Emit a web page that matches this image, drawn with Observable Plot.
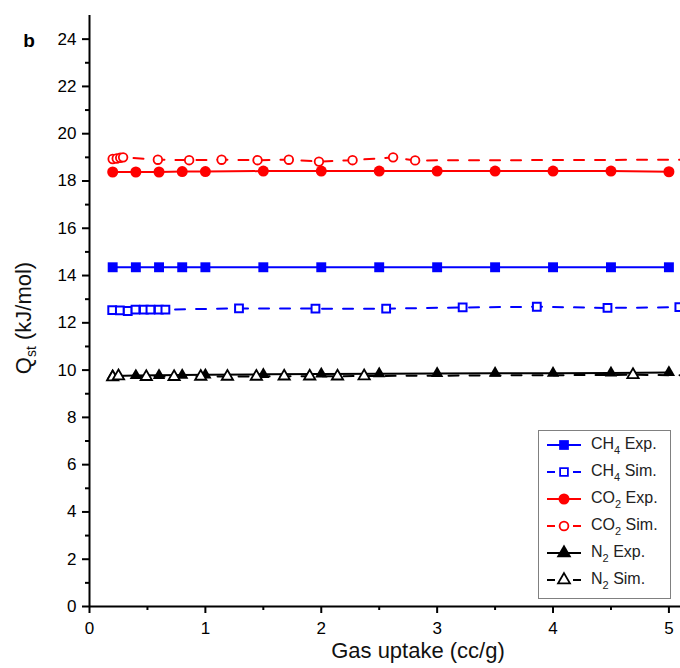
<!DOCTYPE html>
<html>
<head>
<meta charset="utf-8">
<script src="https://cdn.jsdelivr.net/npm/d3@7"></script>
<script src="https://cdn.jsdelivr.net/npm/@observablehq/plot@0.6"></script>
<style>
  body { margin: 0; background: #fff; }
  #wrap { position: relative; width: 680px; height: 668px; overflow: hidden; font-family: 'Liberation Sans', Arial, sans-serif; }
  #legend { position: absolute; left: 538px; top: 430px; width: 133px; height: 169px; border: 1px solid #808080; background: #fff; box-sizing: border-box; }
  .row { position: absolute; left: 0; height: 20px; width: 131px; }
  .row svg { position: absolute; left: 8px; top: 0; }
  .row span { position: absolute; left: 52px; top: 0px; font-size: 16px; color: #222; white-space: nowrap; }
  .row sub { font-size: 11px; vertical-align: -5px; line-height: 0; }
</style>
</head>
<body>
<div id="wrap"></div>
<script>
// ---- data ----
const expX = [0.2, 0.4, 0.6, 0.8, 1.0, 1.5, 2.0, 2.5, 3.0, 3.5, 4.0, 4.5, 5.0];
const ch4Exp = [14.35, 14.35, 14.35, 14.35, 14.35, 14.35, 14.35, 14.35, 14.35, 14.35, 14.35, 14.35, 14.35];
const co2Exp = [18.38, 18.38, 18.38, 18.4, 18.4, 18.42, 18.42, 18.42, 18.42, 18.42, 18.42, 18.42, 18.39];
const n2Exp  = [9.75, 9.77, 9.78, 9.79, 9.8, 9.82, 9.84, 9.85, 9.86, 9.87, 9.87, 9.88, 9.9];

const ch4SimX = [0.196, 0.262, 0.33, 0.397, 0.469, 0.526, 0.598, 0.655, 1.29, 1.95, 2.56, 3.22, 3.86, 4.47, 5.09];
const ch4SimY = [12.54, 12.53, 12.5, 12.56, 12.56, 12.56, 12.56, 12.56, 12.61, 12.6, 12.6, 12.65, 12.68, 12.63, 12.66];

const co2SimX = [0.2, 0.235, 0.265, 0.29, 0.59, 0.86, 1.14, 1.45, 1.72, 1.98, 2.27, 2.62, 2.81];
const co2SimY = [18.93, 18.95, 18.98, 19.0, 18.9, 18.88, 18.9, 18.88, 18.9, 18.82, 18.88, 19.0, 18.87];
const co2SimTail = {x: 5.1, y: 18.9};

const n2SimX = [0.2, 0.25, 0.49, 0.73, 0.96, 1.19, 1.44, 1.68, 1.90, 2.14, 2.37, 4.69];
const n2SimY = [9.7, 9.75, 9.72, 9.72, 9.73, 9.73, 9.73, 9.74, 9.74, 9.74, 9.75, 9.8];
const n2SimTail = {x: 5.1, y: 9.78};

const yMajor = [0, 2, 4, 6, 8, 10, 12, 14, 16, 18, 20, 22, 24];
const yMinor = [1, 3, 5, 7, 9, 11, 13, 15, 17, 19, 21, 23];
const xMajor = [0, 1, 2, 3, 4, 5];
const xMinor = [0.5, 1.5, 2.5, 3.5, 4.5];

const pts = (xs, ys) => xs.map((x, i) => ({x, y: ys[i]}));

const ch4E = pts(expX, ch4Exp), co2E = pts(expX, co2Exp), n2E = pts(expX, n2Exp);
const ch4S = pts(ch4SimX, ch4SimY), co2S = pts(co2SimX, co2SimY), n2S = pts(n2SimX, n2SimY);

const dash = "10,11";

const chart = Plot.plot({
  width: 680, height: 668,
  marginLeft: 89, marginRight: 0, marginTop: 15, marginBottom: 62,
  style: {fontFamily: "'Liberation Sans', Arial, sans-serif", fontSize: "17px", background: "transparent", overflow: "hidden"},
  x: {domain: [0, 5.1]},
  y: {domain: [0, 25]},
  marks: [
    Plot.axisY(yMajor, {tickSize: 7, tickPadding: 6, fontSize: 17, strokeWidth: 2, label: null, stroke: "black", fill: "black", tickFormat: d3.format("d")}),
    Plot.axisY(yMinor, {tickSize: 4, tickFormat: () => "", strokeWidth: 2, label: null, stroke: "black"}),
    Plot.axisX(xMajor, {tickSize: 7, tickPadding: 8, fontSize: 17, strokeWidth: 2, label: null, stroke: "black", fill: "black", tickFormat: d3.format("d")}),
    Plot.axisX(xMinor, {tickSize: 4, tickFormat: () => "", strokeWidth: 2, label: null, stroke: "black"}),
    Plot.ruleX([0], {stroke: "black", strokeWidth: 2}),
    Plot.ruleY([0], {stroke: "black", strokeWidth: 2}),

    // CH4
    Plot.line(ch4E, {x: "x", y: "y", stroke: "#0000ff", strokeWidth: 2}),
    Plot.dot(ch4E, {x: "x", y: "y", symbol: "square", r: 5.6, fill: "#0000ff", stroke: "none"}),
    Plot.line(ch4S, {x: "x", y: "y", stroke: "#0000ff", strokeWidth: 2, strokeDasharray: dash}),
    Plot.dot(ch4S, {x: "x", y: "y", symbol: "square", r: 4.4, fill: "white", stroke: "#0000ff", strokeWidth: 2}),

    // CO2
    Plot.line(co2E, {x: "x", y: "y", stroke: "#ff0000", strokeWidth: 2}),
    Plot.dot(co2E, {x: "x", y: "y", symbol: "circle", r: 5.5, fill: "#ff0000", stroke: "none"}),
    Plot.line([...co2S, co2SimTail], {x: "x", y: "y", stroke: "#ff0000", strokeWidth: 2, strokeDasharray: dash}),
    Plot.dot(co2S, {x: "x", y: "y", symbol: "circle", r: 4.3, fill: "white", stroke: "#ff0000", strokeWidth: 1.8}),

    // N2
    Plot.line(n2E, {x: "x", y: "y", stroke: "black", strokeWidth: 2}),
    Plot.dot(n2E, {x: "x", y: "y", symbol: "triangle", r: 4.6, fill: "black", stroke: "none"}),
    Plot.line([...n2S, n2SimTail], {x: "x", y: "y", stroke: "black", strokeWidth: 2, strokeDasharray: dash}),
    Plot.dot(n2S, {x: "x", y: "y", symbol: "triangle", r: 4.2, fill: "white", stroke: "black", strokeWidth: 1.8})
  ]
});

const svg = d3.select(chart);
// panel label
svg.append("text").attr("x", 29).attr("y", 47)
  .attr("font-size", 19).attr("font-weight", "bold").attr("fill", "black").text("b");
// x label
svg.append("text").attr("x", 418).attr("y", 658).attr("text-anchor", "middle")
  .attr("font-size", 22).attr("fill", "#111").text("Gas uptake (cc/g)");
// y label with subscript
const yl = svg.append("text").attr("transform", "translate(31,318) rotate(-90)")
  .attr("text-anchor", "middle").attr("font-size", 22).attr("fill", "#111");
yl.append("tspan").text("Q");
yl.append("tspan").attr("font-size", 14).attr("dy", 5).text("st");
yl.append("tspan").attr("dy", -5).text(" (kJ/mol)");

const wrap = document.getElementById("wrap");
wrap.appendChild(chart);

// legend
const legendItems = [
  {name: "CH", sub: "4", tail: " Exp.", color: "#0000ff", symbol: "square", filled: true, dashed: false},
  {name: "CH", sub: "4", tail: " Sim.", color: "#0000ff", symbol: "square", filled: false, dashed: true},
  {name: "CO", sub: "2", tail: " Exp.", color: "#ff0000", symbol: "circle", filled: true, dashed: false},
  {name: "CO", sub: "2", tail: " Sim.", color: "#ff0000", symbol: "circle", filled: false, dashed: true},
  {name: "N", sub: "2", tail: " Exp.", color: "black", symbol: "triangle", filled: true, dashed: false},
  {name: "N", sub: "2", tail: " Sim.", color: "black", symbol: "triangle", filled: false, dashed: true}
];
const legend = document.createElement("div");
legend.id = "legend";
legendItems.forEach((it, i) => {
  const row = document.createElement("div");
  row.className = "row";
  row.style.top = (4 + i * 27) + "px";
  const s = d3.create("svg").attr("width", 36).attr("height", 20);
  if (it.dashed) {
    s.append("line").attr("x1", 0).attr("x2", 8).attr("y1", 10).attr("y2", 10).attr("stroke", it.color).attr("stroke-width", 2);
    s.append("line").attr("x1", 26).attr("x2", 34).attr("y1", 10).attr("y2", 10).attr("stroke", it.color).attr("stroke-width", 2);
  } else {
    s.append("line").attr("x1", 0).attr("x2", 34).attr("y1", 10).attr("y2", 10).attr("stroke", it.color).attr("stroke-width", 2);
  }
  const sym = it.symbol === "square" ? d3.symbolSquare : it.symbol === "circle" ? d3.symbolCircle : d3.symbolTriangle;
  const r = it.filled ? 5.5 : 4.4;
  s.append("path").attr("d", d3.symbol(sym, Math.PI * r * r)())
    .attr("transform", "translate(17,10)")
    .attr("fill", it.filled ? it.color : "white")
    .attr("stroke", it.filled ? "none" : it.color).attr("stroke-width", 1.8);
  row.appendChild(s.node());
  const sp = document.createElement("span");
  sp.innerHTML = `${it.name}<sub>${it.sub}</sub>${it.tail}`;
  row.appendChild(sp);
  legend.appendChild(row);
});
wrap.appendChild(legend);
</script>
</body>
</html>
